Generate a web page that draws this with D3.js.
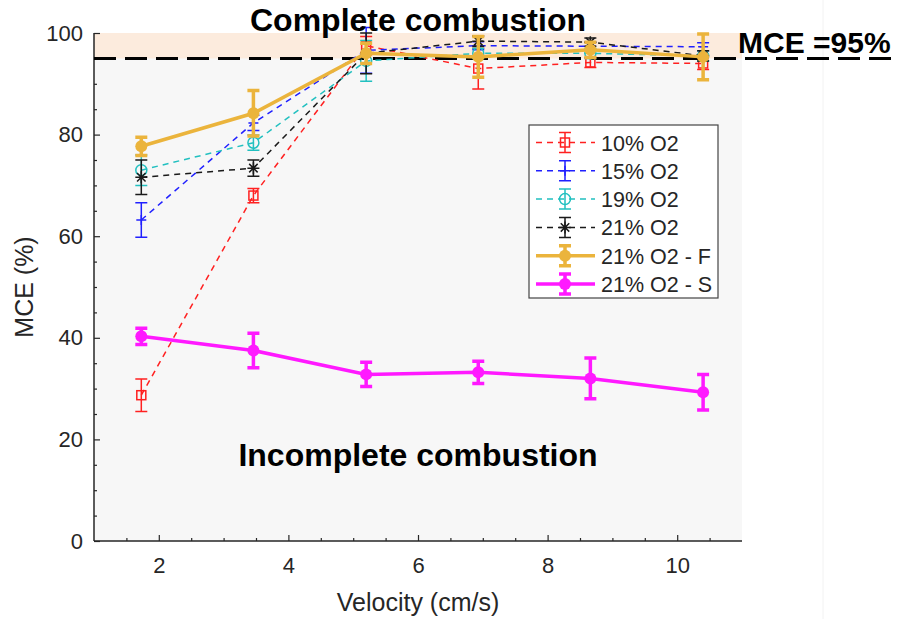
<!DOCTYPE html>
<html><head><meta charset="utf-8">
<script src="https://cdn.jsdelivr.net/npm/d3@7"></script>
<style>body{margin:0;background:#fff;}svg{display:block;font-family:"Liberation Sans",Arial,sans-serif;}</style>
</head><body>
<svg id="c" width="903" height="619"></svg>
<script>
const velocity = [1.73, 3.46, 5.2, 6.93, 8.66, 10.4];
const seriesNames = ["10% O2", "15% O2", "19% O2", "21% O2", "21% O2 - F", "21% O2 - S"];
const o2_10 = [28.7, 68.0, 97.5, 93.0, 94.2, 94.0];
const o2_10_err = [3.2, 1.4, 1.8, 4.0, 1.0, 1.2];
const o2_15 = [63.2, 82.3, 96.6, 97.5, 97.4, 97.3];
const o2_15_err = [3.4, 1.5, 4.5, 0.8, 0.8, 0.8];
const o2_19 = [73.0, 78.4, 94.5, 96.0, 96.0, 95.5];
const o2_19_err = [3.0, 1.5, 4.0, 1.0, 1.0, 1.0];
const o2_21 = [71.6, 73.4, 96.0, 98.4, 98.2, 95.5];
const o2_21_err = [3.4, 1.6, 4.0, 1.0, 0.8, 1.0];
const o2_21F = [77.7, 84.2, 96.0, 95.3, 96.7, 95.3];
const o2_21F_err = [1.8, 4.5, 2.0, 4.0, 1.5, 4.5];
const o2_21S = [40.3, 37.5, 32.8, 33.2, 32.0, 29.3];
const o2_21S_err = [1.6, 3.4, 2.4, 2.2, 4.0, 3.5];
const xTicks = [2, 4, 6, 8, 10];
const yTicks = [0, 20, 40, 60, 80, 100];
const thresholdMCE = 95;

const series = [
  {name: seriesNames[0], y: o2_10, e: o2_10_err, color: "#ff2020", dash: true, marker: "square"},
  {name: seriesNames[1], y: o2_15, e: o2_15_err, color: "#2020ff", dash: true, marker: "plus"},
  {name: seriesNames[2], y: o2_19, e: o2_19_err, color: "#22c0c0", dash: true, marker: "circle"},
  {name: seriesNames[3], y: o2_21, e: o2_21_err, color: "#1a1a1a", dash: true, marker: "star"},
  {name: seriesNames[4], y: o2_21F, e: o2_21F_err, color: "#ebb43c", dash: false, marker: "dot"},
  {name: seriesNames[5], y: o2_21S, e: o2_21S_err, color: "#ff19ff", dash: false, marker: "dot"}
];

const svg = d3.select("#c");
const L = 94, R = 742, T = 33, B = 541;
const x = d3.scaleLinear().domain([1, 11]).range([L, R]);
const y = d3.scaleLinear().domain([0, 100]).range([B, T]);

// plot background
svg.append("rect").attr("x", L).attr("y", T).attr("width", R - L).attr("height", B - T).attr("fill", "#f7f7f7");
svg.append("rect").attr("x", L).attr("y", y(100)).attr("width", R - L).attr("height", y(thresholdMCE) - y(100)).attr("fill", "#fcebdd");
svg.append("line").attr("x1", 823).attr("x2", 823).attr("y1", 0).attr("y2", 619).attr("stroke", "#f2f2f2");

// axes
const axisColor = "#262626";
const gx = svg.append("g").attr("transform", `translate(0,${B})`)
  .call(d3.axisBottom(x).tickValues(xTicks).tickSize(-6).tickPadding(16).tickFormat(d3.format("d")));
const gxm = svg.append("g").attr("transform", `translate(0,${B})`)
  .call(d3.axisBottom(x).tickValues(d3.range(1.5, 11, 0.5).filter(v => !xTicks.includes(v))).tickSize(-3).tickFormat(""));
const gy = svg.append("g").attr("transform", `translate(${L},0)`)
  .call(d3.axisLeft(y).tickValues(yTicks).tickSize(-6).tickPadding(11).tickFormat(d3.format("d")));
const gym = svg.append("g").attr("transform", `translate(${L},0)`)
  .call(d3.axisLeft(y).tickValues(d3.range(5, 100, 5).filter(v => !yTicks.includes(v))).tickSize(-3).tickFormat(""));
[gx, gxm, gy, gym].forEach(g => {
  g.select(".domain").attr("stroke", axisColor).attr("stroke-width", 1.5);
  g.selectAll(".tick line").attr("stroke", axisColor).attr("stroke-width", 1.2);
  g.selectAll(".tick text").attr("fill", axisColor).attr("font-size", 22).attr("font-family", "'Liberation Sans',Arial,sans-serif");
});
gy.select(".domain").attr("d", `M0,${T}V${B}`);
gx.select(".domain").attr("d", `M${L},0H${R}`);
gym.select(".domain").remove(); gxm.select(".domain").remove();

svg.append("text").attr("x", 418).attr("y", 611).attr("text-anchor", "middle").attr("font-size", 25).attr("fill", axisColor)
  .text("Velocity (cm/s)");
svg.append("text").attr("transform", `translate(33,287) rotate(-90)`).attr("text-anchor", "middle").attr("font-size", 25).attr("fill", axisColor)
  .text("MCE (%)");

// threshold line
svg.append("line").attr("x1", L).attr("x2", 893).attr("y1", y(thresholdMCE)).attr("y2", y(thresholdMCE))
  .attr("stroke", "#000").attr("stroke-width", 3).attr("stroke-dasharray", "22,9");

function drawMarker(g, type, color, cx, cy) {
  if (type === "square") {
    g.append("rect").attr("x", cx - 4.5).attr("y", cy - 4.5).attr("width", 9).attr("height", 9).attr("fill", "none").attr("stroke", color).attr("stroke-width", 1.5);
  } else if (type === "circle") {
    g.append("circle").attr("cx", cx).attr("cy", cy).attr("r", 5.5).attr("fill", "none").attr("stroke", color).attr("stroke-width", 1.5);
  } else if (type === "plus") {
    g.append("path").attr("d", `M${cx-5},${cy}H${cx+5}M${cx},${cy-5}V${cy+5}`).attr("stroke", color).attr("stroke-width", 1.5);
  } else if (type === "star") {
    const r = 6;
    let d = "";
    [0, 45, 90, 135].forEach(a => { const t = a * Math.PI / 180; d += `M${cx - r*Math.cos(t)},${cy - r*Math.sin(t)}L${cx + r*Math.cos(t)},${cy + r*Math.sin(t)}`; });
    g.append("path").attr("d", d).attr("stroke", color).attr("stroke-width", 1.5);
  } else if (type === "dot") {
    g.append("circle").attr("cx", cx).attr("cy", cy).attr("r", 6).attr("fill", color);
  }
}

function drawErr(g, s, cx, lo, hi) {
  const thick = !s.dash;
  const sw = thick ? 3.5 : 1.5;
  const cw = 6;
  g.append("path").attr("d", `M${cx},${lo}V${hi}M${cx-cw},${lo}H${cx+cw}M${cx-cw},${hi}H${cx+cw}`)
    .attr("stroke", s.color).attr("stroke-width", sw).attr("fill", "none");
}

const line = d3.line().x((d, i) => x(velocity[i])).y(d => y(d));
series.forEach(s => {
  const g = svg.append("g");
  g.append("path").datum(s.y).attr("d", line).attr("fill", "none").attr("stroke", s.color)
    .attr("stroke-width", s.dash ? 1.5 : 3.5).attr("stroke-dasharray", s.dash ? "6,5" : null);
  s.y.forEach((v, i) => {
    drawErr(g, s, x(velocity[i]), y(v - s.e[i]), y(v + s.e[i]));
    drawMarker(g, s.marker, s.color, x(velocity[i]), y(v));
  });
});

// annotations
svg.append("text").attr("x", 418).attr("y", 31).attr("text-anchor", "middle").attr("font-size", 32).attr("font-weight", "bold").text("Complete combustion");
svg.append("text").attr("x", 418).attr("y", 466).attr("text-anchor", "middle").attr("font-size", 32).attr("font-weight", "bold").text("Incomplete combustion");
svg.append("text").attr("x", 738).attr("y", 53).attr("font-size", 30).attr("font-weight", "bold").text("MCE =95%");

// legend
const lg = svg.append("g");
lg.append("rect").attr("x", 529).attr("y", 125).attr("width", 189).attr("height", 173).attr("fill", "#fff").attr("stroke", "#444").attr("stroke-width", 1.2);
series.forEach((s, i) => {
  const cy = 142.5 + i * 28.3;
  const g = lg.append("g");
  g.append("line").attr("x1", 536).attr("x2", 595).attr("y1", cy).attr("y2", cy).attr("stroke", s.color)
    .attr("stroke-width", s.dash ? 1.5 : 3.5).attr("stroke-dasharray", s.dash ? "6,5" : null);
  drawErr(g, s, 565, cy - 10, cy + 10);
  drawMarker(g, s.marker, s.color, 565, cy);
  g.append("text").attr("x", 601).attr("y", cy + 8).attr("font-size", 21.5).attr("fill", "#262626").text(s.name);
});
</script>
</body></html>
